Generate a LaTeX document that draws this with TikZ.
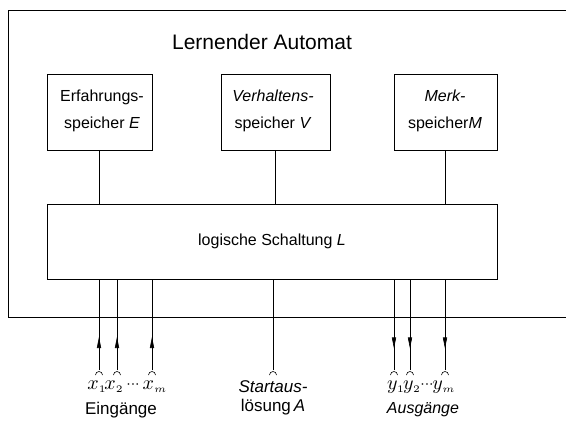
\documentclass[tikz,border=0pt]{standalone}
\usepackage{graphicx}
\usepackage{fontspec}
\setmainfont{Liberation Sans}
\usetikzlibrary{arrows.meta}
\newcommand{\mydots}{\scalebox{1.6}{${\cdot}{\cdot}{\cdot}$}}
\newcommand{\mlab}[2]{\scalebox{2}{$#1_{\scriptscriptstyle #2}$}}
\begin{document}
\begin{tikzpicture}[x=1pt,y=-1pt,
  thinline/.style={line width=0.6pt},
  boxline/.style={draw,line width=0.9pt},
  membox/.style={boxline,minimum height=76pt,align=center,inner sep=0pt,font=\fontsize{16}{27}\selectfont},
  arr/.style={-{Triangle[length=11pt,width=4.2pt]},line width=0.6pt},
  lbl/.style={font=\fontsize{17}{18}\selectfont,inner sep=0pt,align=center},
  mlbl/.style={font=\fontsize{10}{12}\selectfont,inner sep=0pt}]
\useasboundingbox (0,0) rectangle (566,423);
% outer frame (open on the right)
\draw[line width=0.8pt] (566,10) -- (8,10) -- (8,317) -- (566,317);
\node[font=\fontsize{21}{23}\selectfont,inner sep=0pt] (title) at (262,42) {Lernender Automat};
% memory boxes
\node[membox,minimum width=105pt] (E) at (99.5,112.5) {};
\node[membox,minimum width=109pt] (V) at (275.5,112) {};
\node[membox,minimum width=103pt] (M) at (445.5,112) {};
\node[membox,draw=none,minimum height=0pt] (Et) at (102,111) {Erfahrungs-\\speicher \textit{E}};
\node[membox,draw=none,minimum height=0pt] (Vt) at (273,111) {\textit{Verhaltens-}\\speicher \textit{V}};
\node[membox,draw=none,minimum height=0pt] (Mt) at (445,111) {\textit{Merk-}\\speicher\textit{M}};
% logic circuit
\node[boxline,minimum width=450pt,minimum height=75pt,inner sep=0pt,font=\fontsize{16}{18}\selectfont] (L) at (272,241.5) {logische Schaltung \textit{L}};
\draw[thinline] (E.south) -- (E.south |- L.north);
\draw[thinline] (V.south) -- (V.south |- L.north);
\draw[thinline] (M.south) -- (M.south |- L.north);
% terminal coordinates
\foreach \n/\x in {x1/99,x2/117,xm/152,s/273,y1/394,y2/410,ym/445}{
  \coordinate (c\n) at (\x,370);
  \draw[thinline] (\x-3.5,375) arc[start angle=180,end angle=0,radius=3.5pt];
}
% inputs (arrows up)
\foreach \n in {x1,x2,xm}{
  \draw[thinline] (c\n) -- (c\n |- L.south);
  \draw[arr] (c\n) -- ++(0,-33);
}
% start line
\draw[thinline] (cs) -- (cs |- L.south);
% outputs (arrows down)
\foreach \n in {y1,y2,ym}{
  \draw[thinline] (c\n) -- (c\n |- L.south);
  \draw[arr] (c\n |- L.south) -- ++(0,69);
}
% labels
\node[mlbl] (lx1) at (97,387) {\mlab{x}{1}};
\node[mlbl] (lx2) at (114,387) {\mlab{x}{2}};
\node[mlbl] (ldx) at (133,385) {\mydots};
\node[mlbl] (lxm) at (155,387) {\mlab{x}{m}};
\node[lbl] (ein) at (121,410) {Eingänge};
\node[lbl,font=\fontsize{17}{19}\selectfont] (start) at (273,398) {\textit{Startaus-}\\lösung\,\textit{A}};
\node[mlbl] (ly1) at (396,387) {\mlab{y}{1}};
\node[mlbl] (ly2) at (412,387) {\mlab{y}{2}};
\node[mlbl] (ldy) at (427,385) {\mydots};
\node[mlbl] (lym) at (444,387) {\mlab{y}{m}};
\node[lbl,font=\fontsize{16}{18}\selectfont] (aus) at (423,410) {\textit{Ausgänge}};
\end{tikzpicture}
\end{document}
